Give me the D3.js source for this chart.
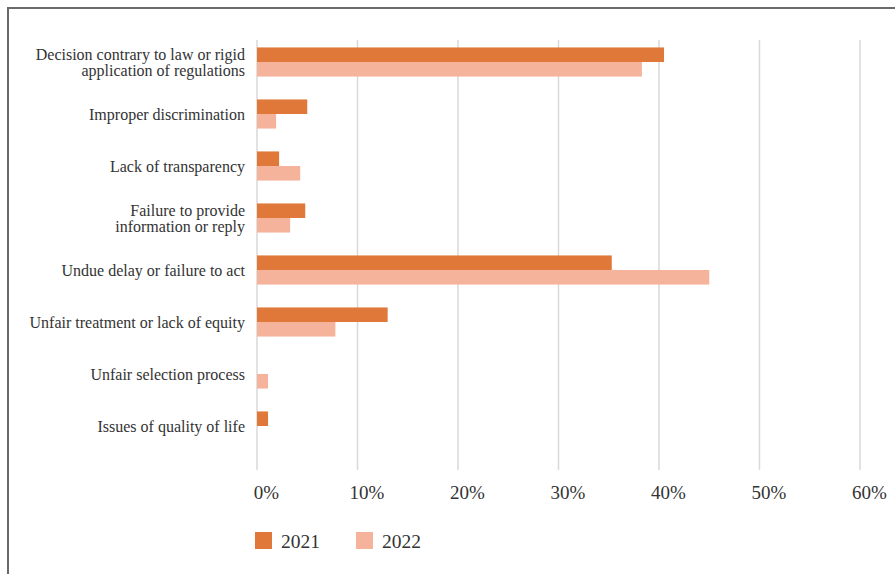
<!DOCTYPE html>
<html>
<head>
<meta charset="utf-8">
<script src="https://cdn.jsdelivr.net/npm/d3@7"></script>
<style>
  html, body { margin: 0; padding: 0; background: #fff; }
  svg { display: block; }
  text { font-family: "Liberation Serif", "Times New Roman", serif; fill: #333; }
</style>
</head>
<body>
<svg id="chart" width="895" height="574"></svg>
<script>
// Complaint categories (multi-line labels split on "\n")
const categories = [
  "Decision contrary to law or rigid\napplication of regulations",
  "Improper discrimination",
  "Lack of transparency",
  "Failure to provide\ninformation or reply",
  "Undue delay or failure to act",
  "Unfair treatment or lack of equity",
  "Unfair selection process",
  "Issues of quality of life"
];
const seriesNames = ["2021", "2022"];
const values2021 = [40.5, 5.0, 2.2, 4.8, 35.3, 13.0, 0, 1.1];
const values2022 = [38.3, 1.9, 4.3, 3.3, 45.0, 7.8, 1.1, 0];
const xTicks = [0, 10, 20, 30, 40, 50, 60];
const colors = ["#DF7838", "#F5B39C"];

const svg = d3.select("#chart");

// Frame lines (top and left)
svg.append("path")
  .attr("d", "M8,574 V8 H895")
  .attr("fill", "none")
  .attr("stroke", "#6a6a6a")
  .attr("stroke-width", 2);

const x = d3.scaleLinear().domain([0, 60]).range([257, 860]);
const y = d3.scaleBand().domain(categories).range([36, 452])
  .paddingInner(0.44).paddingOuter(0.22);
const sub = d3.scaleBand().domain(seriesNames).range([0, y.bandwidth()]);

// Vertical gridlines
svg.append("g").selectAll("line").data(xTicks).join("line")
  .attr("x1", d => x(d)).attr("x2", d => x(d))
  .attr("y1", 40).attr("y2", 470)
  .attr("stroke", "#d9d9d9").attr("stroke-width", 1.5);

// Bars
const rows = categories.map((c, i) => ({ cat: c, vals: [values2021[i], values2022[i]] }));
const g = svg.append("g");
rows.forEach(r => {
  r.vals.forEach((v, j) => {
    if (v <= 0) return;
    g.append("rect")
      .attr("x", x(0))
      .attr("y", y(r.cat) + sub(seriesNames[j]))
      .attr("width", x(v) - x(0))
      .attr("height", sub.bandwidth())
      .attr("fill", colors[j]);
  });
});

// Category labels
const labels = svg.append("g");
categories.forEach(c => {
  const lines = c.split("\n");
  const cy = y(c) + y.bandwidth() / 2;
  const lh = 16;
  const t = labels.append("text")
    .attr("text-anchor", "end")
    .attr("font-size", 16);
  lines.forEach((ln, k) => {
    t.append("tspan")
      .attr("x", 245)
      .attr("y", cy + (k - (lines.length - 1) / 2) * lh)
      .attr("dy", "0.35em")
      .text(ln);
  });
});

// X axis tick labels
const axis = d3.axisBottom(x).tickValues(xTicks).tickSize(0).tickPadding(0)
  .tickFormat(d => d + "%");
const ax = svg.append("g").attr("transform", "translate(0,485)").call(axis);
ax.select(".domain").remove();
ax.selectAll("text")
  .attr("font-size", 19)
  .attr("dx", 9)
  .attr("font-family", "Liberation Serif, serif")
  .attr("fill", "#333");

// Legend
const legend = svg.append("g");
const legX = [255, 356];
seriesNames.forEach((s, i) => {
  legend.append("rect")
    .attr("x", legX[i]).attr("y", 532)
    .attr("width", 17).attr("height", 17)
    .attr("fill", colors[i]);
  legend.append("text")
    .attr("x", legX[i] + 26).attr("y", 541)
    .attr("dy", "0.35em")
    .attr("font-size", 19.5)
    .text(s);
});
</script>
</body>
</html>
